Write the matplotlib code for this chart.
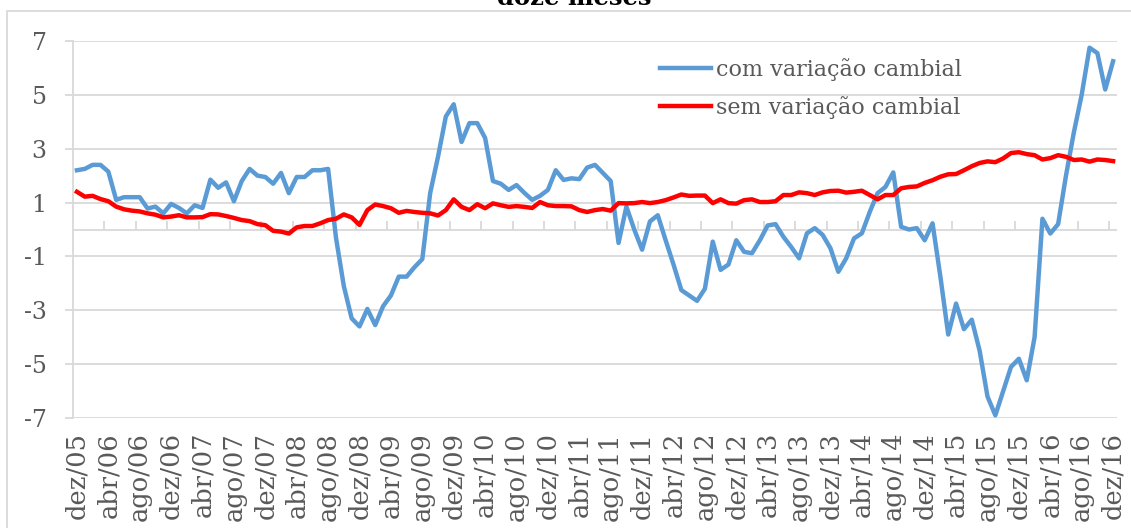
import matplotlib
matplotlib.use('Agg')
import matplotlib.pyplot as plt
from matplotlib.patches import Rectangle

plt.rcParams['font.family'] = 'DejaVu Serif'
plt.rcParams['axes.unicode_minus'] = False

# meses (dez/05 ate dez/16)
meses = ['jan', 'fev', 'mar', 'abr', 'mai', 'jun', 'jul', 'ago', 'set', 'out', 'nov', 'dez']
categorias = ['dez/05'] + [f'{m}/{a:02d}' for a in range(6, 17) for m in meses]

com_cambio = [2.2, 2.25, 2.4, 2.4, 2.15, 1.1, 1.2, 1.2, 1.2, 0.78,
              0.85, 0.6, 0.95, 0.8, 0.6, 0.9, 0.8, 1.85, 1.55, 1.75,
              1.05, 1.8, 2.25, 2.0, 1.95, 1.7, 2.1, 1.35, 1.95, 1.95,
              2.2, 2.2, 2.25, -0.3, -2.1, -3.3, -3.6, -2.95, -3.55, -2.85,
              -2.45, -1.75, -1.75, -1.4, -1.1, 1.35, 2.7, 4.2, 4.65, 3.25,
              3.95, 3.95, 3.4, 1.8, 1.7, 1.47, 1.65, 1.36, 1.1, 1.25,
              1.47, 2.2, 1.84, 1.9, 1.87, 2.3, 2.4, 2.1, 1.8, -0.5,
              0.85, 0.0, -0.75, 0.3, 0.53, -0.4, -1.3, -2.25, -2.45, -2.65,
              -2.2, -0.45, -1.5, -1.3, -0.4, -0.83, -0.88, -0.4, 0.15, 0.2,
              -0.27, -0.65, -1.07, -0.14, 0.05, -0.2, -0.7, -1.57, -1.07, -0.33,
              -0.14, 0.65, 1.35, 1.58, 2.12, 0.1, 0.0, 0.05, -0.4, 0.23,
              -1.75, -3.9, -2.75, -3.7, -3.35, -4.5, -6.2, -6.9, -6.0, -5.1,
              -4.8, -5.6, -4.0, 0.4, -0.15, 0.2, 2.0, 3.6, 5.0, 6.75,
              6.55, 5.2, 6.25]

sem_cambio = [1.4, 1.22, 1.25, 1.13, 1.05, 0.85, 0.75, 0.7, 0.67, 0.6,
              0.55, 0.45, 0.48, 0.53, 0.45, 0.45, 0.46, 0.57, 0.56, 0.5,
              0.43, 0.35, 0.31, 0.2, 0.16, -0.05, -0.08, -0.15, 0.08, 0.13,
              0.13, 0.23, 0.35, 0.4, 0.56, 0.45, 0.17, 0.72, 0.93, 0.87,
              0.79, 0.62, 0.69, 0.65, 0.62, 0.6, 0.52, 0.72, 1.12, 0.84,
              0.72, 0.94, 0.79, 0.97, 0.9, 0.84, 0.87, 0.84, 0.8, 1.02,
              0.9, 0.87, 0.87, 0.86, 0.72, 0.65, 0.72, 0.76, 0.7, 0.98,
              0.97, 0.98, 1.02, 0.98, 1.02, 1.09, 1.19, 1.3, 1.25, 1.26,
              1.26, 0.98, 1.12, 0.98, 0.96, 1.09, 1.12, 1.02, 1.02, 1.05,
              1.28, 1.28, 1.38, 1.35, 1.28, 1.38, 1.43, 1.44, 1.37, 1.4,
              1.44, 1.28, 1.12, 1.28, 1.28, 1.53, 1.58, 1.6, 1.73, 1.83,
              1.96, 2.05, 2.06, 2.2, 2.35, 2.47, 2.53, 2.5, 2.64, 2.84,
              2.87, 2.8, 2.76, 2.6, 2.65, 2.76, 2.7, 2.58, 2.6, 2.52,
              2.6, 2.58, 2.54]

n = len(categorias)
x = list(range(n))
cinza = '#d9d9d9'
texto = '#595959'

fig = plt.figure(figsize=(11.31, 5.28), dpi=100)
ax = fig.add_axes([73/1131, 1-418/528, (1117-73)/1131, (418-41)/528])

ax.plot(x, com_cambio, color='#5b9bd5', lw=3.2, label='com variação cambial',
        solid_joinstyle='round', zorder=3)
ax.plot(x, sem_cambio, color='#ff0000', lw=3.2, label='sem variação cambial',
        solid_joinstyle='round', zorder=4)

ax.set_xlim(-0.5, n - 0.5)
ax.set_ylim(-7, 7)
ax.set_yticks(range(-7, 8, 2))
ax.grid(axis='y', color=cinza, lw=1.3)
ax.set_axisbelow(True)
for s in ['top', 'right', 'bottom']:
    ax.spines[s].set_visible(False)
ax.spines['left'].set_color(cinza)
ax.spines['left'].set_linewidth(1.3)

# eixo das categorias em zero, marcas a cada 4 meses
ax.axhline(0, color=cinza, lw=1.3, zorder=1)
ax.vlines([k - 0.5 for k in range(4, n, 4)], 0, 0.3, color=cinza, lw=1.3, zorder=1)

ax.set_xticks(x[::4])
ax.set_xticklabels(categorias[::4], rotation=90)
ax.tick_params(axis='x', length=0, pad=10, labelsize=18.5, labelcolor=texto)
ax.tick_params(axis='y', length=6, width=1.3, color=cinza, pad=13,
               labelsize=17, labelcolor=texto)

ax.legend(loc='upper left', bbox_to_anchor=(660/1131, 1-58/528),
          bbox_transform=fig.transFigure, frameon=False, fontsize=16,
          handlelength=2.3, handletextpad=0.2, borderpad=0, borderaxespad=0,
          labelspacing=0.68, labelcolor=texto)

fig.text(574/1131, 1-5/528, 'doze meses', ha='center', va='baseline',
         fontweight='bold', fontsize=17.5)

fig.patches.append(Rectangle((7/1131, -0.1), 1.2, 1 - 11/528 + 0.1,
                             transform=fig.transFigure, fill=False,
                             edgecolor=cinza, lw=1.3))

fig.savefig('out.png', dpi=100)
